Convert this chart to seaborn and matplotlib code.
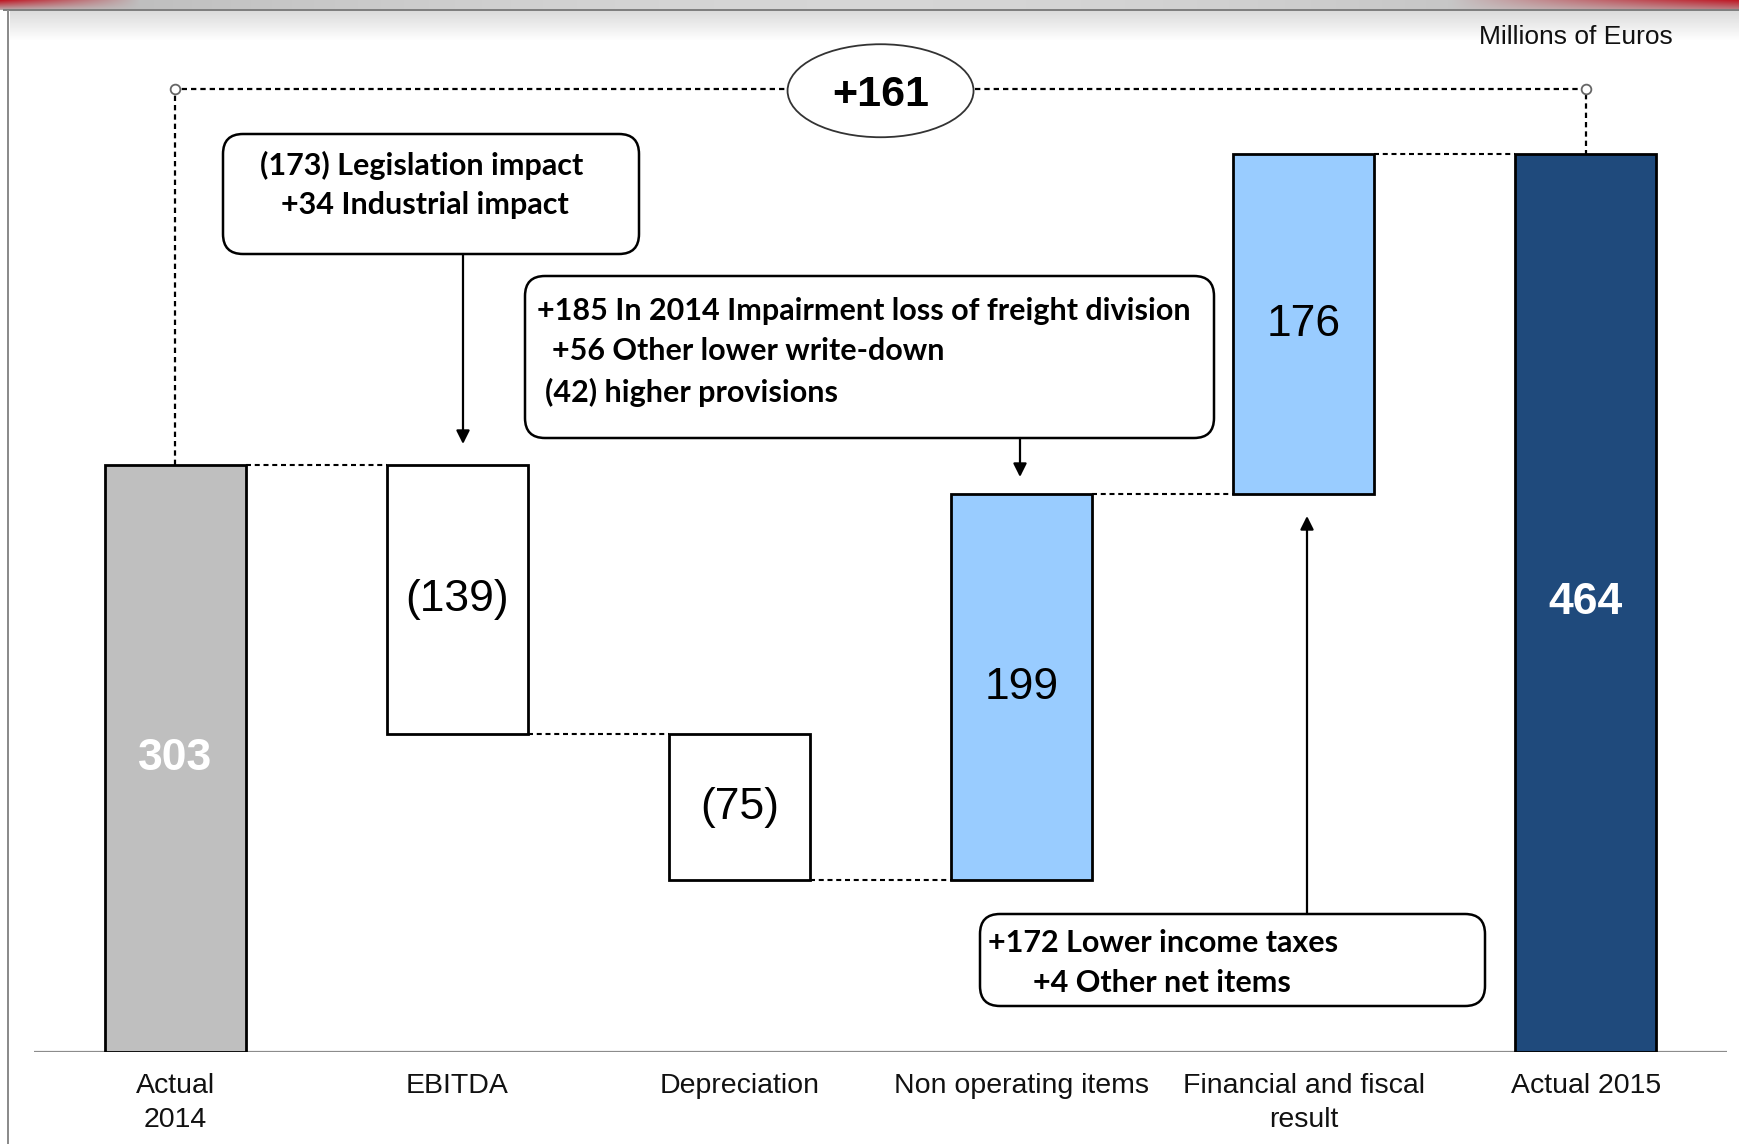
import numpy as np
import pandas as pd
import matplotlib
matplotlib.use("Agg")
import matplotlib.pyplot as plt
import seaborn as sns
from matplotlib.patches import FancyBboxPatch, Ellipse
from matplotlib.transforms import IdentityTransform

# ---------------- data ----------------
categories = ["Actual\n2014", "EBITDA", "Depreciation", "Non operating items",
              "Financial and fiscal\nresult", "Actual 2015"]
steps = [303, -139, -75, 199, 176, 464]
kinds = ["total", "delta", "delta", "delta", "delta", "total"]
value_labels = ["303", "(139)", "(75)", "199", "176", "464"]
bar_colors = ["#BFBFBF", "#FFFFFF", "#FFFFFF", "#99CCFF", "#99CCFF", "#1F4A7C"]
label_colors = ["white", "black", "black", "black", "black", "white"]
label_weights = ["bold", "normal", "normal", "normal", "normal", "bold"]
total_change = "+161"
unit_label = "Millions of Euros"
note_ebitda = ["(173) Legislation impact", "+34 Industrial impact"]
note_nonop = ["+185 In 2014 Impairment loss of freight division",
              "+56 Other lower write-down", "(42) higher provisions"]
note_fin = ["+172 Lower income taxes", "+4 Other net items"]

# waterfall geometry derived from the steps
bottoms, heights, levels = [], [], []
running = 0
for v, k in zip(steps, kinds):
    if k == "total":
        bottoms.append(0); heights.append(v); running = v
    else:
        if v >= 0:
            bottoms.append(running); heights.append(v)
        else:
            bottoms.append(running + v); heights.append(-v)
        running += v
    levels.append(running)

df = pd.DataFrame({"category": categories, "height": heights, "bottom": bottoms})

# ---------------- style ----------------
sns.set_style("white")
plt.rcParams["font.family"] = ["Liberation Sans", "DejaVu Sans"]

W, H = 1740, 1144
fig = plt.figure(figsize=(W / 100, H / 100), dpi=100)
fig.patch.set_facecolor("white")

# slide decoration (top band + left rule)
bg = fig.add_axes([0, 0, 1, 1], zorder=-10)
bg.axis("off")
img = np.ones((H, W, 3))
xs = np.linspace(0, 1, W)
for r in range(0, 10):
    base = np.array([0.72, 0.72, 0.72]) + 0.12 * np.sin(np.pi * xs)[:, None]
    red = np.array([0.75, 0.1, 0.15])
    wl = np.clip(1 - np.arange(W) / 140.0, 0, 1) * (1 - r / 10)
    wr = np.clip((np.arange(W) - 1450) / 290.0, 0, 1) * (1 - r / 14)
    w = np.maximum(wl, wr)[:, None]
    img[r] = base * (1 - w) + red * w
img[9:11, 3:] = 0.5
for r in range(11, 40):
    img[r, 10:] = 0.86 + 0.14 * (r - 11) / 29
img[10:, 7:9] = 0.55
bg.imshow(img, extent=[0, 1, 0, 1], aspect="auto")
bg.set_xlim(0, 1); bg.set_ylim(0, 1)

# main axes: pixel mapping
px_per_unit_x = 282.1
px_per_val = 1.936
base_py = 1052
ax = fig.add_axes([0, (H - base_py) / H, 1, base_py / H])
ax.set_facecolor("none")

sns.barplot(data=df, x="category", y="height", order=categories,
            bottom=df["bottom"].values, width=0.5, color="white",
            edgecolor="black", linewidth=2, errorbar=None, ax=ax, zorder=3)
for patch, c in zip(ax.patches, bar_colors):
    patch.set_facecolor(c)

ax.set_xlim(-175.3 / px_per_unit_x, 5 + (W - 1585.8) / px_per_unit_x)
ax.set_ylim(0, base_py / px_per_val)
ax.set_xlabel(""); ax.set_ylabel("")
ax.set_yticks([])
ax.tick_params(axis="x", length=0, pad=15, labelsize=20.5, labelcolor="#111111")
for t in ax.get_xticklabels():
    t.set_linespacing(1.4)
sns.despine(ax=ax, left=True, bottom=True, top=True, right=True)

# baseline
ax.hlines(0, -0.5, 5.5, color="#8C8C8C", lw=1.6, zorder=1)

# value labels
for i, (b, h) in enumerate(zip(bottoms, heights)):
    ax.text(i, b + h / 2, value_labels[i], ha="center", va="center",
            fontsize=32, color=label_colors[i], fontweight=label_weights[i], zorder=5)

# connectors
dash = (0, (2.4, 1.8))
for i in range(len(steps) - 1):
    ax.plot([i + 0.25, i + 1 - 0.25], [levels[i], levels[i]], color="black",
            lw=1.5, ls=dash, zorder=2)

# top bracket
top_y = (base_py - 88.8) / px_per_val
ax.plot([0, 0, 5, 5], [levels[0], top_y, top_y, levels[-1]], color="black",
        lw=1.6, ls=dash, zorder=2)
ax.plot([0, 5], [top_y, top_y], ls="none", marker="o", ms=7, mfc="white",
        mec="#666666", mew=1.3, zorder=4)
ell = Ellipse((2.5, top_y - 1.0), 186 / px_per_unit_x, 93 / px_per_val,
              facecolor="white", edgecolor="#333333", lw=1.3, zorder=4)
ax.add_patch(ell)
ax.text(2.5, top_y - 1.0, total_change, ha="center", va="center_baseline",
        fontsize=31, fontweight="bold", color="black", zorder=5)

# unit label
fig.text(1673, H - 37, unit_label, transform=IdentityTransform(),
         ha="right", va="center", fontsize=19, color="#111111")

# annotation boxes (pixel coordinates, y from top)
def box(x0, y0, x1, y1):
    p = FancyBboxPatch((x0, H - y1), x1 - x0, y1 - y0,
                       boxstyle="round,pad=0,rounding_size=20",
                       transform=IdentityTransform(), facecolor="white",
                       edgecolor="black", lw=1.8, zorder=6)
    fig.add_artist(p)

def note(x, y, s, ha="left"):
    fig.text(x, H - y, s, transform=IdentityTransform(), ha=ha, va="center",
             fontsize=22, fontweight="bold", family=["Lato", "DejaVu Sans"],
             color="black", zorder=7)

def arrow(x, y0, y1):
    fig.add_artist(matplotlib.patches.FancyArrowPatch(
        (x, H - y0), (x, H - y1), transform=IdentityTransform(),
        arrowstyle="-|>", mutation_scale=20, lw=1.6, color="black",
        shrinkA=0, shrinkB=0, zorder=6))

box(223, 134, 639, 254)
note(422, 165, note_ebitda[0], ha="center")
note(425, 205, note_ebitda[1], ha="center")
arrow(463, 254, 444)

box(525, 276, 1214, 438)
note(537, 311, note_nonop[0])
note(552, 351, note_nonop[1])
note(545, 392, note_nonop[2])
arrow(1020, 438, 477)

box(980, 914, 1485, 1006)
note(988, 943, note_fin[0])
note(1033, 983, note_fin[1])
arrow(1307, 914, 516)

fig.savefig("out.png", dpi=100)
